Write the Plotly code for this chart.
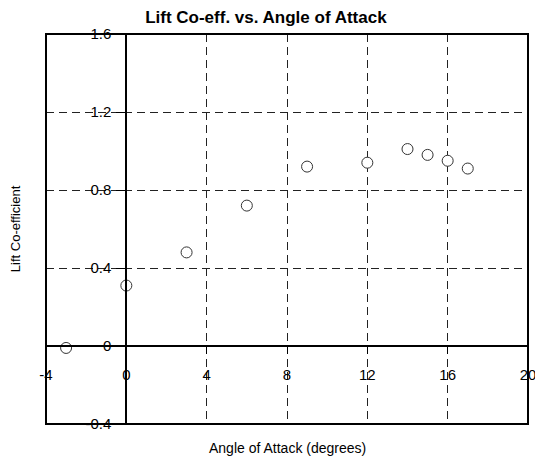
import plotly.graph_objects as go

angle = [-3, 0, 3, 6, 9, 12, 14, 15, 16, 17]
lift = [-0.01, 0.31, 0.48, 0.72, 0.92, 0.94, 1.01, 0.98, 0.95, 0.91]
x_ticks = [-4, 0, 4, 8, 12, 16, 20]
y_ticks = [-0.4, 0, 0.4, 0.8, 1.2, 1.6]
y_tick_text = ["-0.4", "0", "0.4", "0.8", "1.2", "1.6"]

FONT = "Liberation Sans, Arial, Helvetica, sans-serif"
xr = [-4, 20]
yr = [-0.4, 1.6]

# page has an 8px body margin; figure is sized to fill the rest of the window
W, H = 535, 452

fig = go.Figure()
fig.add_trace(go.Scatter(
    x=angle, y=lift, mode="markers",
    marker=dict(symbol="circle", size=11, color="white",
                line=dict(color="#333333", width=1)),
    showlegend=False, cliponaxis=False,
))

fig.update_layout(
    template="none",
    width=W, height=H,
    margin=dict(l=38, r=15, t=26, b=36, autoexpand=False),
    paper_bgcolor="white", plot_bgcolor="white",
    font=dict(family=FONT, color="black"),
    title=dict(text="<b>Lift Co-eff. vs. Angle of Attack</b>",
               x=0.482, xanchor="center", y=0.981, yanchor="middle",
               yref="container", automargin=False,
               font=dict(size=17, family=FONT, color="black")),
    xaxis=dict(
        range=xr, domain=[0, 1], anchor="free", automargin=False,
        position=(0 - yr[0]) / (yr[1] - yr[0]),
        tickmode="array", tickvals=x_ticks, ticktext=[str(v) for v in x_ticks],
        ticks="outside", ticklen=7, tickwidth=1, tickcolor="black",
        ticklabelstandoff=8,
        showline=True, linecolor="black", linewidth=2,
        showgrid=True, gridcolor="#222222", gridwidth=1, griddash="8px,5px",
        zeroline=False, tickfont=dict(size=15, family=FONT, color="black"),
    ),
    yaxis=dict(
        range=yr, domain=[0, 1], anchor="free", automargin=False,
        position=(0 - xr[0]) / (xr[1] - xr[0]),
        tickmode="array", tickvals=y_ticks, ticktext=y_tick_text,
        ticks="outside", ticklen=9, tickwidth=1, tickcolor="black",
        ticklabelstandoff=2,
        showline=True, linecolor="black", linewidth=2,
        showgrid=True, gridcolor="#222222", gridwidth=1, griddash="8px,5px",
        zeroline=False, tickfont=dict(size=15, family=FONT, color="black"),
    ),
    shapes=[dict(type="rect", xref="x domain", yref="y domain",
                 x0=0, x1=1, y0=0, y1=1,
                 line=dict(color="black", width=2), layer="above")],
    annotations=[
        dict(text="Angle of Attack (degrees)", xref="paper", yref="paper",
             x=0.5, y=-0.062, xanchor="center", yanchor="middle",
             showarrow=False, font=dict(size=14, family=FONT, color="black")),
        dict(text="Lift Co-efficient", xref="paper", yref="paper",
             x=-0.064, y=0.5, xanchor="center", yanchor="middle", textangle=-90,
             showarrow=False, font=dict(size=13, family=FONT, color="black")),
    ],
)

fig.write_html("out.html")
